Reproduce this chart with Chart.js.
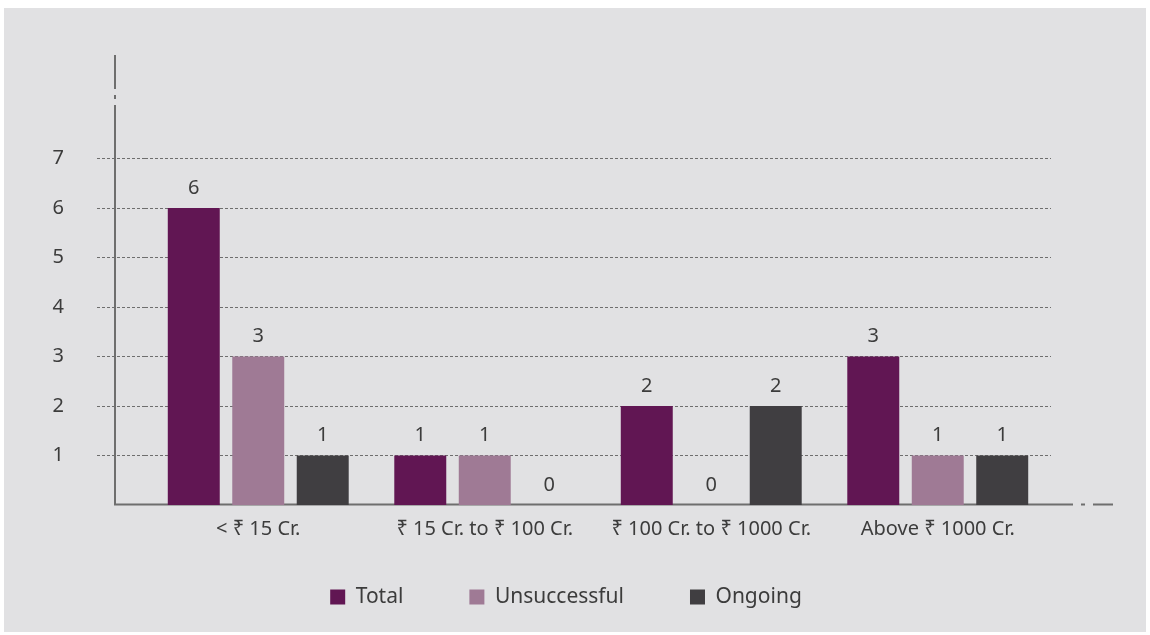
<!DOCTYPE html>
<html>
<head>
<meta charset="utf-8">
<title>Cases by size</title>
<script src="https://cdn.jsdelivr.net/npm/chart.js@4.4.0/dist/chart.umd.min.js"></script>
<style>
  html, body { margin: 0; padding: 0; background: #ffffff; }
  #panel {
    position: absolute;
    left: 4px; top: 8px;
    width: 1142px; height: 624px;
    background: #e1e1e3;
  }
</style>
</head>
<body>
<div id="panel"><canvas id="chartCanvas" width="1142" height="624"></canvas></div>
<script>
const categories = ["< ₹ 15 Cr.", "₹ 15 Cr. to ₹ 100 Cr.", "₹ 100 Cr. to ₹ 1000 Cr.", "Above ₹ 1000 Cr."];
const totalCases = [6, 1, 2, 3];
const unsuccessfulCases = [3, 1, 0, 1];
const ongoingCases = [1, 0, 2, 1];
const yTicks = [1, 2, 3, 4, 5, 6, 7];

const TEXT = "#3c3c3c";
const LINE = "#6e6e6e";
const FONT = "'Noto Sans', 'DejaVu Sans', sans-serif";

// axis lines with the little break marks, drawn under the bars
const brokenAxes = {
    id: "brokenAxes",
    beforeDatasetsDraw(chart) {
        const { ctx, chartArea: a } = chart;
        const ax = a.left - 30;
        const top = a.top - 4.5;
        const by = a.bottom - 0.5;
        ctx.save();
        ctx.strokeStyle = LINE;
        ctx.lineWidth = 2;
        ctx.setLineDash([]);
        ctx.beginPath();
        // y axis
        ctx.moveTo(ax, top); ctx.lineTo(ax, top + 34);
        ctx.moveTo(ax, top + 40); ctx.lineTo(ax, top + 44);
        ctx.moveTo(ax, top + 50); ctx.lineTo(ax, a.bottom + 0.5);
        // x axis
        ctx.moveTo(ax - 1, by); ctx.lineTo(a.right + 22, by);
        ctx.moveTo(a.right + 30, by); ctx.lineTo(a.right + 34, by);
        ctx.moveTo(a.right + 42, by); ctx.lineTo(a.right + 62, by);
        ctx.stroke();
        ctx.restore();
    }
};

// value above every bar, zeros included
const valueLabels = {
    id: "valueLabels",
    afterDatasetsDraw(chart) {
        const { ctx } = chart;
        ctx.save();
        ctx.font = "20px " + FONT;
        ctx.fillStyle = TEXT;
        ctx.textAlign = "center";
        ctx.textBaseline = "middle";
        chart.data.datasets.forEach((ds, i) => {
            chart.getDatasetMeta(i).data.forEach((bar, j) => {
                ctx.fillText(ds.data[j], bar.x, bar.y - 20);
            });
        });
        ctx.restore();
    }
};

// wide legend spacing pushes the row down, so grow the legend box upwards
const legendLift = {
    id: "legendLift",
    afterLayout(chart) {
        const lg = chart.legend;
        lg.top -= 17.5;
        lg.height += 17.5;
    }
};

const barOpts = { categoryPercentage: 0.854, barPercentage: 0.806, borderWidth: 0 };

new Chart(document.getElementById("chartCanvas"), {
    type: "bar",
    data: {
        labels: categories,
        datasets: [
            { label: "Total", data: totalCases, backgroundColor: "#611653", ...barOpts },
            { label: "Unsuccessful", data: unsuccessfulCases, backgroundColor: "#9f7a95", ...barOpts },
            { label: "Ongoing", data: ongoingCases, backgroundColor: "#403e41", ...barOpts }
        ]
    },
    options: {
        responsive: false,
        animation: false,
        layout: { padding: { left: 0, right: 18, top: 51.5, bottom: 14 } },
        plugins: {
            tooltip: { enabled: false },
            legend: {
                position: "bottom",
                maxHeight: 80,
                labels: {
                    boxWidth: 15,
                    boxHeight: 15,
                    padding: 66,
                    color: TEXT,
                    font: { family: FONT, size: 21 }
                }
            }
        },
        scales: {
            x: {
                grid: { display: false, drawTicks: false },
                border: { display: false },
                ticks: { color: TEXT, padding: 12, font: { family: FONT, size: 20 } },
                afterFit(scale) { scale.height = 33; }
            },
            y: {
                min: 0,
                max: 9,
                afterBuildTicks(axis) { axis.ticks = yTicks.map(v => ({ value: v })); },
                afterFit(scale) { scale.width = 141; },
                border: { display: false, dash: [3, 2] },
                grid: {
                    color: LINE,
                    lineWidth: 1,
                    tickBorderDash: [3, 2],
                    tickColor: LINE,
                    tickLength: 48
                },
                ticks: { color: TEXT, padding: 33, font: { family: FONT, size: 20 } }
            },
            // empty right-hand spacer so the plot ends where the axis break starts
            yRight: {
                type: "linear",
                position: "right",
                grid: { display: false },
                border: { display: false },
                ticks: { display: false },
                afterFit(scale) { scale.width = 77; }
            }
        }
    },
    plugins: [brokenAxes, valueLabels, legendLift]
});
</script>
</body>
</html>
